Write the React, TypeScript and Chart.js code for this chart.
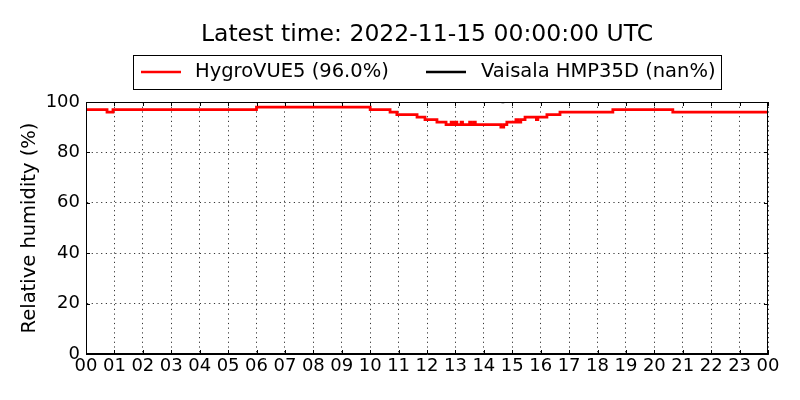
import React, { useEffect, useRef } from "react";
import { Chart, registerables } from "chart.js";

Chart.register(...registerables);

const titleText = "Latest time: 2022-11-15 00:00:00 UTC";
const hygroLabel = "HygroVUE5 (96.0%)";
const vaisalaLabel = "Vaisala HMP35D (nan%)";
const yTitle = "Relative humidity (%)";

// hours since 00 UTC where the reading changes
const hygroHours = [
  0, 0.74, 0.95, 6.0, 10.0, 10.7, 10.94, 11.65, 11.93, 12.35, 12.67, 12.85, 12.9,
  13.0, 13.05, 13.2, 13.25, 13.5, 13.55, 13.65, 13.7, 13.85, 14.6, 14.7, 14.81,
  15.13, 15.2, 15.3, 15.45, 15.85, 15.9, 16.22, 16.68, 18.54, 20.65, 24,
];
const hygroValues = [
  97, 96, 97, 98, 97, 96, 95, 94, 93, 92, 91, 92, 91,
  92, 91, 92, 91, 92, 91, 92, 91, 91, 90, 91, 92,
  93, 92, 93, 94, 93, 94, 95, 96, 97, 96, 96,
];
const vaisalaHours = [14.62, 14.72];
const vaisalaValues = [100, 100];

const xTickLabels = [
  "00", "01", "02", "03", "04", "05", "06", "07", "08", "09", "10", "11",
  "12", "13", "14", "15", "16", "17", "18", "19", "20", "21", "22", "23", "00",
];
const yTicks = [0, 20, 40, 60, 80, 100];

const FONT = "DejaVu Sans";

const decorPlugin = {
  id: "decor",
  afterDraw(chart: any) {
    const ctx = chart.ctx as CanvasRenderingContext2D;
    const ca = chart.chartArea;
    const xs = chart.scales.x;
    const ys = chart.scales.y;
    ctx.save();
    // frame
    ctx.strokeStyle = "#000";
    ctx.lineWidth = 1;
    ctx.strokeRect(Math.round(ca.left) + 0.5, Math.round(ca.top) + 0.5, Math.round(ca.right - ca.left) - 1, Math.round(ca.bottom - ca.top) - 1);
    // inward ticks
    ctx.lineWidth = 1;
    for (let i = 0; i < xTickLabels.length; i++) {
      const px = Math.round(xs.getPixelForValue(i)) + 0.5;
      ctx.beginPath();
      ctx.moveTo(px, ca.bottom);
      ctx.lineTo(px, ca.bottom - 4);
      ctx.moveTo(px, ca.top);
      ctx.lineTo(px, ca.top + 4);
      ctx.stroke();
    }
    for (const v of yTicks) {
      const py = Math.round(ys.getPixelForValue(v)) + 0.5;
      ctx.beginPath();
      ctx.moveTo(ca.left, py);
      ctx.lineTo(ca.left + 4, py);
      ctx.moveTo(ca.right, py);
      ctx.lineTo(ca.right - 4, py);
      ctx.stroke();
    }
    // title
    ctx.fillStyle = "#000";
    ctx.font = `23.5px "${FONT}"`;
    ctx.textAlign = "center";
    ctx.textBaseline = "middle";
    ctx.fillText(titleText, (ca.left + ca.right) / 2, 35);
    // legend
    ctx.fillStyle = "#fff";
    ctx.fillRect(133.5, 55.5, 588, 34);
    ctx.strokeStyle = "#000";
    ctx.strokeRect(133.5, 55.5, 588, 34);
    ctx.lineWidth = 2.5;
    ctx.strokeStyle = "#ff0000";
    ctx.beginPath();
    ctx.moveTo(141, 72);
    ctx.lineTo(181, 72);
    ctx.stroke();
    ctx.strokeStyle = "#000";
    ctx.beginPath();
    ctx.moveTo(426, 72);
    ctx.lineTo(466, 72);
    ctx.stroke();
    ctx.fillStyle = "#000";
    ctx.font = `19.5px "${FONT}"`;
    ctx.textAlign = "left";
    ctx.fillText(hygroLabel, 195, 72);
    ctx.fillText(vaisalaLabel, 481, 72);
    // y title
    ctx.translate(30, (ca.top + ca.bottom) / 2);
    ctx.rotate(-Math.PI / 2);
    ctx.textAlign = "center";
    ctx.fillText(yTitle, 0, 0);
    ctx.restore();
  },
};

export default function App() {
  const ref = useRef<HTMLCanvasElement | null>(null);
  useEffect(() => {
    if (!ref.current) return;
    const chart = new Chart(ref.current, {
      type: "line",
      data: {
        datasets: [
          {
            label: hygroLabel,
            data: hygroHours.map((h, i) => ({ x: h, y: hygroValues[i] })),
            borderColor: "#ff0000",
            borderWidth: 2.8,
            pointRadius: 0,
            stepped: "before",
            fill: false,
          },
          {
            label: vaisalaLabel,
            data: vaisalaHours.map((h, i) => ({ x: h, y: vaisalaValues[i] })),
            borderColor: "#000",
            borderWidth: 2.5,
            pointRadius: 0,
            fill: false,
          },
        ],
      },
      options: {
        animation: false,
        responsive: true,
        maintainAspectRatio: false,
        devicePixelRatio: 1,
        layout: { padding: { top: 102, right: 32, left: 0, bottom: 0 } },
        plugins: { legend: { display: false }, title: { display: false }, tooltip: { enabled: false } },
        scales: {
          x: {
            type: "linear",
            min: 0,
            max: 24,
            afterFit(scale: any) {
              scale.height = 46;
            },
            afterBuildTicks(scale: any) {
              scale.ticks = xTickLabels.map((_, i) => ({ value: i }));
            },
            ticks: {
              autoSkip: false,
              maxRotation: 0,
              color: "#000",
              font: { family: FONT, size: 18 },
              padding: 2,
              callback: (v: any) => xTickLabels[Number(v)] ?? "",
            },
            grid: { color: "#000", lineWidth: 0.8, drawTicks: false },
            border: { display: true, color: "#000", width: 1, dash: [1.2, 3.5] } as any,
          },
          y: {
            min: 0,
            max: 100,
            afterFit(scale: any) {
              scale.width = 86;
            },
            afterBuildTicks(scale: any) {
              scale.ticks = yTicks.map((v) => ({ value: v }));
            },
            ticks: {
              color: "#000",
              font: { family: FONT, size: 18 },
              padding: 6,
            },
            grid: { color: "#000", lineWidth: 0.8, drawTicks: false },
            border: { display: true, color: "#000", width: 1, dash: [1.2, 3.5] } as any,
          },
        },
      } as any,
      plugins: [decorPlugin],
    });
    return () => chart.destroy();
  }, []);
  return (
    <div style={{ position: "fixed", left: 0, top: 0, width: 800, height: 400, background: "#fff" }}>
      <canvas ref={ref} />
    </div>
  );
}
